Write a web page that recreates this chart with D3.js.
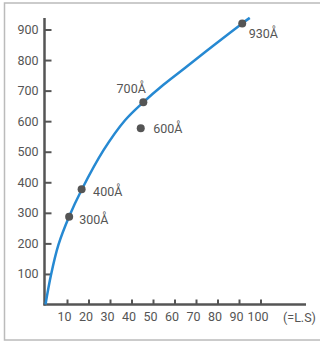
<!DOCTYPE html>
<html>
<head>
<meta charset="utf-8">
<script src="https://cdn.jsdelivr.net/npm/d3@7"></script>
<style>
  html, body { margin: 0; padding: 0; background: #fff; }
  svg { display: block; }
  text { font-family: Roboto, "Liberation Sans", sans-serif; fill: #555; }
</style>
</head>
<body>
<div id="chart"></div>
<script>
// 曲线读数 (L.S, 值)
const curveX = [0, 2.5, 6, 11, 17, 27, 37, 45.5, 55, 65, 78, 91.5, 95];
const curveY = [0, 95, 195, 288, 378, 505, 603, 662, 720, 775, 847, 920, 938];

// 标注点
const pointNames = ['300Å', '400Å', '700Å', '600Å', '930Å'];
const pointX = [11, 16.8, 45.5, 44.3, 91.5];
const pointY = [287, 377, 662, 577, 920];

const xTicks = [10, 20, 30, 40, 50, 60, 70, 80, 90, 100];
const yTicks = [100, 200, 300, 400, 500, 600, 700, 800, 900];
const xUnit = '(=L.S)';

const width = 320, height = 343;

const svg = d3.select('#chart').append('svg')
    .attr('width', width)
    .attr('height', height);

// 外框
svg.append('rect')
    .attr('x', 4.5).attr('y', 3)
    .attr('width', 340).attr('height', 337)
    .attr('fill', 'none')
    .attr('stroke', '#bbb')
    .attr('stroke-width', 1.5);

const x = d3.scaleLinear().domain([0, 100]).range([45.5, 260.5]);
const y = d3.scaleLinear().domain([0, 900]).range([304.5, 29.5]);

const axisColor = '#555';

// y 轴
const gy = svg.append('g')
    .attr('transform', `translate(${x(0) - 1},0)`)
    .call(d3.axisLeft(y).tickValues(yTicks).tickSize(-7).tickPadding(6));
gy.select('.domain').remove();
gy.selectAll('.tick line').attr('stroke', axisColor).attr('stroke-width', 2);
gy.selectAll('.tick text').style('font-size', '12.5px').attr('fill', '#555');

// x 轴
const gx = svg.append('g')
    .attr('transform', `translate(0,${y(0)})`)
    .call(d3.axisBottom(x).tickValues(xTicks).tickSize(-5).tickPadding(8));
gx.select('.domain').remove();
gx.selectAll('.tick line').attr('stroke', axisColor).attr('stroke-width', 2);
gx.selectAll('.tick text').attr('dx', -3).style('font-size', '12.5px').attr('fill', '#555');

// 轴线
svg.append('line')
    .attr('x1', x(0) - 1).attr('x2', x(0) - 1)
    .attr('y1', 18).attr('y2', y(0) + 1)
    .attr('stroke', axisColor).attr('stroke-width', 2.5);
svg.append('line')
    .attr('x1', x(0) - 2).attr('x2', 306)
    .attr('y1', y(0)).attr('y2', y(0))
    .attr('stroke', axisColor).attr('stroke-width', 2.5);

svg.append('text')
    .attr('x', 283).attr('y', 321.5)
    .style('font-size', '12.5px')
    .text(xUnit);

// 曲线
const curveData = curveX.map((v, i) => [v, curveY[i]]);
const line = d3.line()
    .x(d => x(d[0]))
    .y(d => y(d[1]))
    .curve(d3.curveCatmullRom.alpha(0.5));

svg.append('path')
    .datum(curveData)
    .attr('d', line)
    .attr('fill', 'none')
    .attr('stroke', '#2689d2')
    .attr('stroke-width', 2.5);

// 点与标签
const labelOffset = {
    '300Å': { dx: 10, dy: 7.5, anchor: 'start' },
    '400Å': { dx: 11.5, dy: 7, anchor: 'start' },
    '700Å': { dx: 2.5, dy: -9.5, anchor: 'end' },
    '600Å': { dx: 12.5, dy: 5, anchor: 'start' },
    '930Å': { dx: 6.5, dy: 15, anchor: 'start' }
};

const points = pointNames.map((n, i) => ({ name: n, x: pointX[i], y: pointY[i] }));

svg.selectAll('.pt')
    .data(points)
    .join('circle')
    .attr('class', 'pt')
    .attr('cx', d => x(d.x))
    .attr('cy', d => y(d.y))
    .attr('r', 4)
    .attr('fill', '#555');

svg.selectAll('.pt-label')
    .data(points)
    .join('text')
    .attr('class', 'pt-label')
    .attr('x', d => x(d.x) + labelOffset[d.name].dx)
    .attr('y', d => y(d.y) + labelOffset[d.name].dy)
    .attr('text-anchor', d => labelOffset[d.name].anchor)
    .style('font-size', '12.5px')
    .text(d => d.name);
</script>
</body>
</html>
